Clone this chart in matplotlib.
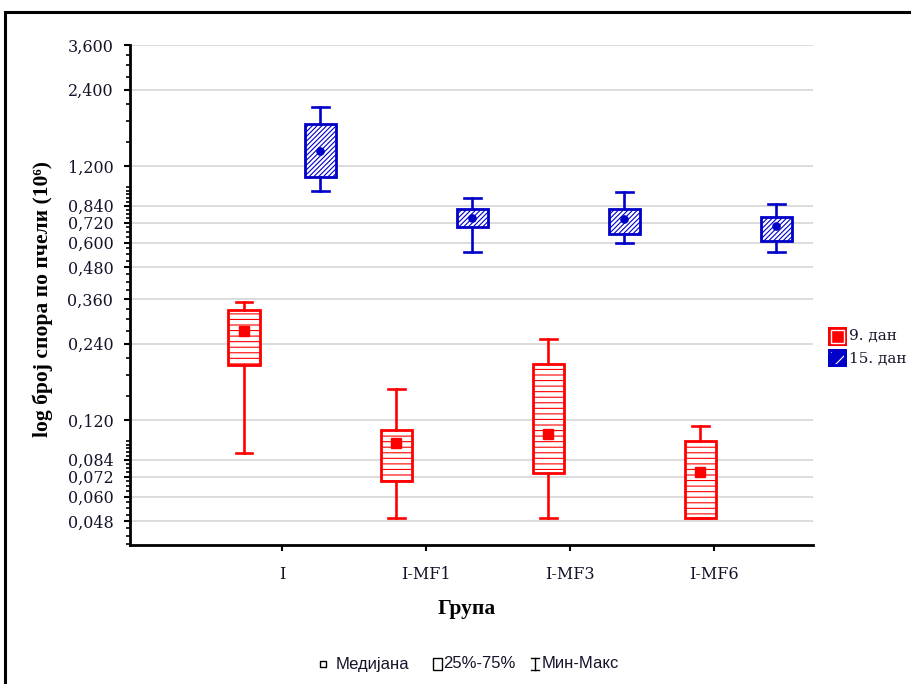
import numpy as np
import matplotlib
matplotlib.use('Agg')
import matplotlib.pyplot as plt
from matplotlib.patches import Rectangle
from matplotlib.lines import Line2D
from matplotlib.ticker import FixedLocator, FixedFormatter, NullFormatter

# ---------------- data ----------------
groups = ['I', 'I-MF1', 'I-MF3', 'I-MF6']
series_names = ['9. дан', '15. дан']

# day 9 (red)
d9_min = [0.0894, 0.0496, 0.0496, 0.0493]
d9_q1 = [0.198, 0.0694, 0.0743, 0.0493]
d9_med = [0.269, 0.0973, 0.1059, 0.0748]
d9_q3 = [0.326, 0.1095, 0.1998, 0.0994]
d9_max = [0.351, 0.159, 0.2497, 0.1138]

# day 15 (blue)
d15_min = [0.956, 0.550, 0.600, 0.550]
d15_q1 = [1.091, 0.690, 0.649, 0.611]
d15_med = [1.378, 0.752, 0.741, 0.698]
d15_q3 = [1.754, 0.816, 0.814, 0.755]
d15_max = [2.058, 0.897, 0.952, 0.854]

yticks = [0.048, 0.060, 0.072, 0.084, 0.120, 0.240, 0.360, 0.480,
          0.600, 0.720, 0.840, 1.200, 2.400, 3.600]
ytick_labels = ['0,048', '0,060', '0,072', '0,084', '0,120', '0,240', '0,360',
                '0,480', '0,600', '0,720', '0,840', '1,200', '2,400', '3,600']

ylabel = 'log број спора по пчели (10⁶)'
xlabel = 'Група'
legend_items = ['Медијана', '25%-75%', 'Мин-Макс']

RED = '#FF0000'
BLUE = '#0000C8'
TXT = '#14142a'

W, H = 912, 684
fig = plt.figure(figsize=(W / 100, H / 100), dpi=100)
plt.rcParams['hatch.linewidth'] = 0.8


def P(x, y):
    return x / W, 1 - y / H


ax = fig.add_axes([130 / W, 1 - 545 / H, (813 - 130) / W, (545 - 45) / H])
ax.set_yscale('log')
ax.set_ylim(0.0387, 3.6)
ax.set_xlim(-1.0, 3.49)

pos = np.arange(len(groups))
off = 0.25
bw = 0.205


def stats(lo, q1, med, q3, hi):
    return [dict(med=m, q1=a, q3=b, whislo=l, whishi=h, fliers=[])
            for l, a, m, b, h in zip(lo, q1, med, q3, hi)]


for s, col, hatch, shift, mk, ms in [
        (stats(d9_min, d9_q1, d9_med, d9_q3, d9_max), RED, '---', -off, 's', 6.5),
        (stats(d15_min, d15_q1, d15_med, d15_q3, d15_max), BLUE, '///////', off, 'o', 5.2)]:
    ax.bxp(s, positions=pos + shift, widths=bw, capwidths=0.11,
           patch_artist=True, showfliers=False, manage_ticks=False,
           boxprops=dict(facecolor='white', edgecolor=col, hatch=hatch, linewidth=2.0),
           whiskerprops=dict(color=col, linewidth=1.9),
           capprops=dict(color=col, linewidth=1.9),
           medianprops=dict(visible=False))
    ax.plot(pos + shift, [d['med'] for d in s], linestyle='none', marker=mk,
            markersize=ms, color=col, zorder=5)

# axes styling
for sp in ['top', 'right']:
    ax.spines[sp].set_visible(False)
for sp in ['left', 'bottom']:
    ax.spines[sp].set_linewidth(2.0)
    ax.spines[sp].set_color('black')

ax.yaxis.set_major_locator(FixedLocator(yticks))
ax.yaxis.set_major_formatter(FixedFormatter(ytick_labels))
minor = np.concatenate([np.arange(0.039, 0.1, 0.003),
                        np.arange(0.15, 1.0, 0.03),
                        np.arange(1.5, 3.6, 0.3)])
ax.yaxis.set_minor_locator(FixedLocator(minor))
ax.yaxis.set_minor_formatter(NullFormatter())
ax.tick_params(axis='y', which='major', direction='out', length=4, width=1.5,
               pad=8, labelsize=11.5, labelcolor=TXT)
ax.tick_params(axis='y', which='minor', direction='out', length=3, width=1.2)
for t in ax.get_yticklabels():
    t.set_fontfamily('DejaVu Serif')

ax.set_xticks(pos * 0.947)
ax.set_xticklabels(groups, fontfamily='DejaVu Serif', fontsize=11.5, color=TXT)
ax.tick_params(axis='x', direction='out', length=4, width=1.5, pad=11)

ax.yaxis.grid(True, which='major', color='#d9d9d9', linewidth=1.3)
ax.set_axisbelow(True)

# axis titles
fig.text(*P(43, 299), ylabel, rotation=90, ha='center', va='center',
         fontsize=15.5, fontweight='bold', color='black',
         family=['Liberation Serif', 'DejaVu Serif'])
fig.text(*P(467, 609), xlabel, ha='center', va='center', fontsize=15.5,
         fontweight='bold', color='black', family='Liberation Serif')

# right legend
def frect(x0, y0, x1, y1, **kw):
    r = Rectangle(P(x0, y1), (x1 - x0) / W, (y1 - y0) / H,
                  transform=fig.transFigure, **kw)
    fig.add_artist(r)
    return r

frect(828, 327, 847, 346, facecolor=RED, edgecolor='none')
frect(831, 330, 844, 343, facecolor='none', edgecolor='white', linewidth=1.0)
frect(828, 349, 847, 367, facecolor=BLUE, edgecolor='none')
frect(831, 352, 844, 364, facecolor='none', edgecolor='white', linewidth=0,
      hatch='//')
fig.text(*P(849, 336), series_names[0], ha='left', va='center', fontsize=11,
         family='DejaVu Serif', color=TXT)
fig.text(*P(849, 359), series_names[1], ha='left', va='center', fontsize=11,
         family='DejaVu Serif', color=TXT)

# bottom legend
fig.add_artist(Line2D([323 / W], [1 - 664 / H], marker='s', markersize=4.5,
                      markerfacecolor='white', markeredgecolor='black',
                      markeredgewidth=1.0, linestyle='none',
                      transform=fig.transFigure))
fig.text(*P(336, 664), legend_items[0], ha='left', va='center', fontsize=12,
         family='Liberation Sans', color=TXT)
frect(433, 658, 442, 670, facecolor='white', edgecolor='black', linewidth=1.0)
fig.text(*P(443, 664), legend_items[1], ha='left', va='center', fontsize=12,
         family='Liberation Sans', color=TXT)
# I-beam symbol
for xs, ys in [([531, 539], [658, 658]), ([531, 539], [670, 670]), ([535, 535], [658, 670])]:
    fig.add_artist(Line2D([x / W for x in xs], [1 - y / H for y in ys],
                          color='black', linewidth=1.0, transform=fig.transFigure))
fig.text(*P(542, 664), legend_items[2], ha='left', va='center', fontsize=12,
         family='Liberation Sans', color=TXT)

# outer frame
fig.add_artist(Line2D([5 / W, 1.0], [1 - 12 / H, 1 - 12 / H], color='black',
                      linewidth=2.2, transform=fig.transFigure))
fig.add_artist(Line2D([5 / W, 5 / W], [0, 1 - 12 / H], color='black',
                      linewidth=2.2, transform=fig.transFigure))

fig.savefig('out.png', dpi=100)
